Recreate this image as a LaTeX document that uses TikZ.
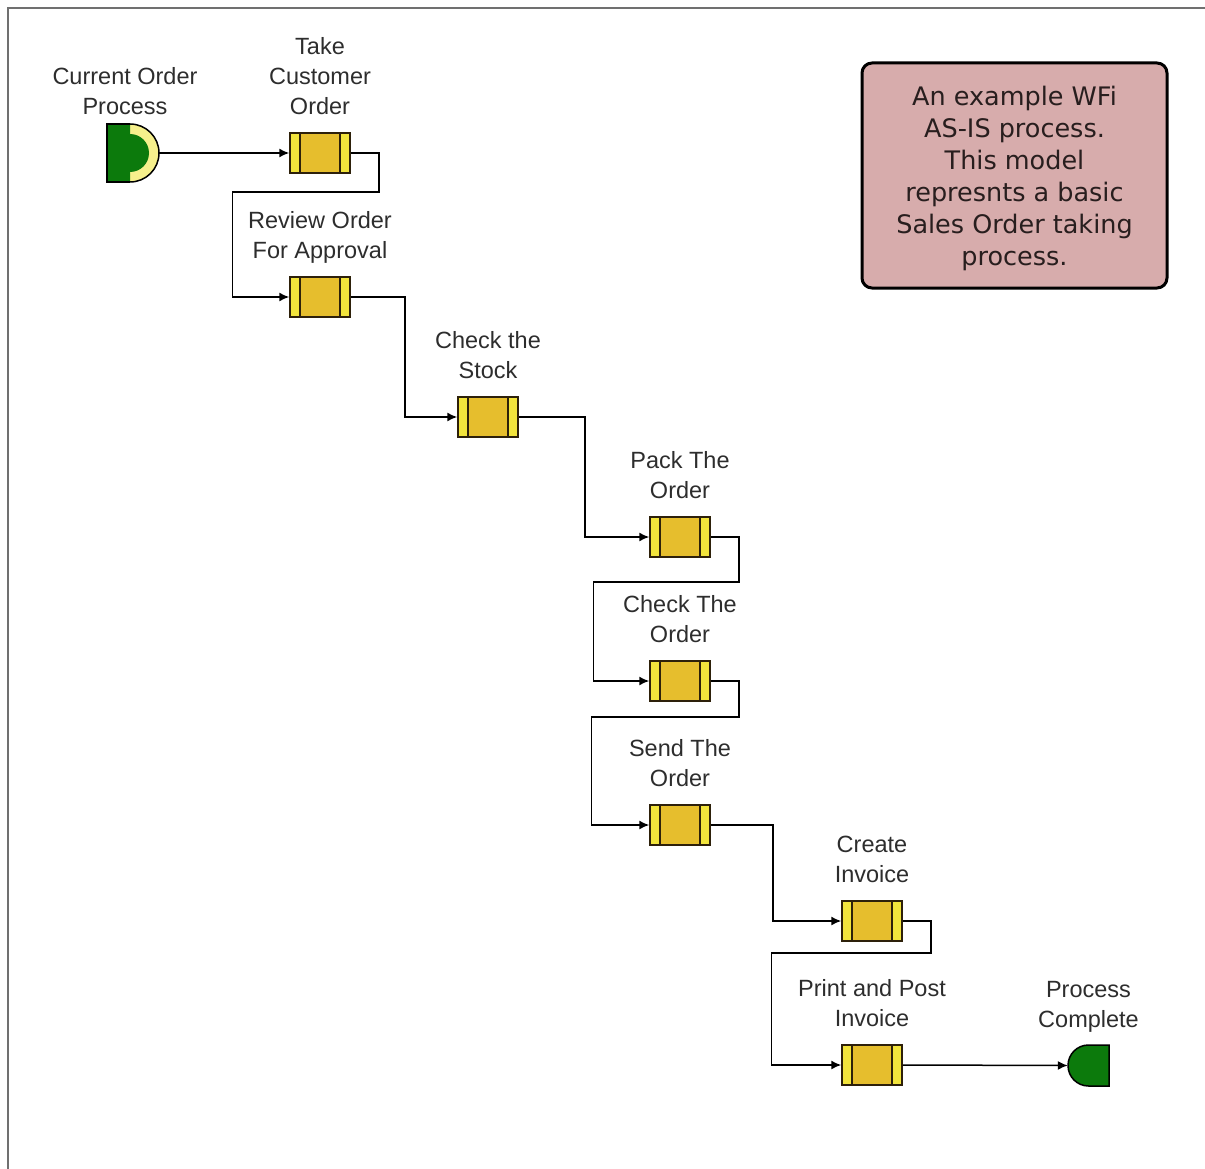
\documentclass[tikz,border=0pt]{standalone}
\usepackage{fontspec}
\setmainfont{Liberation Sans}
\newfontfamily\notefont{DejaVu Sans}
\usetikzlibrary{arrows.meta,calc}

\definecolor{framegray}{RGB}{112,112,112}
\definecolor{taskgold}{RGB}{230,190,45}
\definecolor{taskside}{RGB}{242,228,60}
\definecolor{boxline}{RGB}{45,32,10}
\definecolor{evgreen}{RGB}{12,122,12}
\definecolor{ringyellow}{RGB}{246,240,140}
\definecolor{notefill}{RGB}{215,172,172}
\definecolor{labelgray}{RGB}{45,45,45}
\definecolor{notetext}{RGB}{40,30,30}

\tikzset{
  task/.style={draw=boxline, line width=1.5pt, fill=taskgold,
    minimum width=60pt, minimum height=40pt, inner sep=0pt,
    path picture={
      \fill[taskside] (path picture bounding box.south west) rectangle ([xshift=10pt]path picture bounding box.north west);
      \fill[taskside] (path picture bounding box.south east) rectangle ([xshift=-10pt]path picture bounding box.north east);
      \draw[boxline, line width=1.5pt] ([xshift=10pt]path picture bounding box.south west) -- ([xshift=10pt]path picture bounding box.north west);
      \draw[boxline, line width=1.5pt] ([xshift=-10pt]path picture bounding box.south east) -- ([xshift=-10pt]path picture bounding box.north east);
    }},
  lbl/.style={font=\fontsize{23.5}{30}\selectfont, text=labelgray, align=center,
    inner sep=0pt, anchor=south},
  conn/.style={line width=1.5pt, black, -{Latex[length=10pt,width=9pt]}},
  evoutline/.style={draw=black, line width=1.5pt},
}

\begin{document}
\begin{tikzpicture}[x=1pt, y=-1pt]
\useasboundingbox (0,0) rectangle (1205,1169);

% window frame
\draw[framegray, line width=2.5pt] (8,1169) -- (8,8) -- (1205,8);

% start and end events (shapes drawn over placeholders)
\node[minimum width=52pt, minimum height=58pt, inner sep=0pt] (start) at (133,153) {};
\node[minimum width=41pt, minimum height=41pt, inner sep=0pt] (done) at (1088.5,1065.5) {};

\begin{scope}[shift={(start.center)}]
  \path[fill=ringyellow, evoutline] (-26,-29) -- (-3,-29) arc[start angle=90, end angle=-90, radius=29pt] -- (-26,29) -- cycle;
  \fill[evgreen] (-26,-29) -- (-3,-29) -- (-3,-19) arc[start angle=90, end angle=-90, radius=19pt] -- (-3,29) -- (-26,29) -- cycle;
  \draw[black, line width=1.5pt] (-3,-29) -- (-26,-29) -- (-26,29) -- (-3,29);
\end{scope}

\begin{scope}[shift={(done.center)}]
  \path[fill=evgreen, evoutline] (20.5,-20.5) -- (0,-20.5) arc[start angle=90, end angle=270, radius=20.5pt] -- (20.5,20.5) -- cycle;
\end{scope}

% tasks
\node[task] (t1) at (320,153) {};
\node[task] (t2) at (320,297) {};
\node[task] (t3) at (488,417) {};
\node[task] (t4) at (680,537) {};
\node[task] (t5) at (680,681) {};
\node[task] (t6) at (680,825) {};
\node[task] (t7) at (872,921) {};
\node[task] (t8) at (872,1065) {};

% labels
\node[lbl] at ([xshift=-8pt]start.north) {Current Order\\Process\strut};
\node[lbl] at ([yshift=9pt]t1.north) {Take\\Customer\\Order\strut};
\node[lbl] at ([yshift=9pt]t2.north) {Review Order\\For Approval\strut};
\node[lbl] at ([yshift=9pt]t3.north) {Check the\\Stock\strut};
\node[lbl] at ([yshift=9pt]t4.north) {Pack The\\Order\strut};
\node[lbl] at ([yshift=9pt]t5.north) {Check The\\Order\strut};
\node[lbl] at ([yshift=9pt]t6.north) {Send The\\Order\strut};
\node[lbl] at ([yshift=9pt]t7.north) {Create\\Invoice\strut};
\node[lbl] at ([yshift=9pt]t8.north) {Print and Post\\Invoice\strut};
\node[lbl] at ([yshift=8pt]done.north) {Process\\Complete\strut};

% note
\node[draw=black, line width=3pt, fill=notefill, rounded corners=10pt,
  minimum width=305pt, minimum height=225pt, inner sep=0pt,
  align=center, text=notetext, font=\notefont\fontsize{25.5}{32}\selectfont]
  (note) at (1014.5,175.5)
  {\rule{0pt}{25pt}An example WFi\\AS-IS process.\\This model\\represnts a basic\\Sales Order taking\\process.};

% connectors
\draw[conn] (start.east) -- (t1.west);
\draw[conn] (t1.east) -- ++(28,0) -- ++(0,39) -| ($(t2.west)+(-57,0)$) -- (t2.west);
\draw[conn] (t2.east) -- ++(54,0) |- (t3.west);
\draw[conn] (t3.east) -- ++(66,0) |- (t4.west);
\draw[conn] (t4.east) -- ++(28,0) -- ++(0,45) -| ($(t5.west)+(-56,0)$) -- (t5.west);
\draw[conn] (t5.east) -- ++(28,0) -- ++(0,36) -| ($(t6.west)+(-58,0)$) -- (t6.west);
\draw[conn] (t6.east) -- ++(62,0) |- (t7.west);
\draw[conn] (t7.east) -- ++(28,0) -- ++(0,32) -| ($(t8.west)+(-70,0)$) -- (t8.west);
\draw[conn] (t8.east) -- (done.west);
\end{tikzpicture}
\end{document}
